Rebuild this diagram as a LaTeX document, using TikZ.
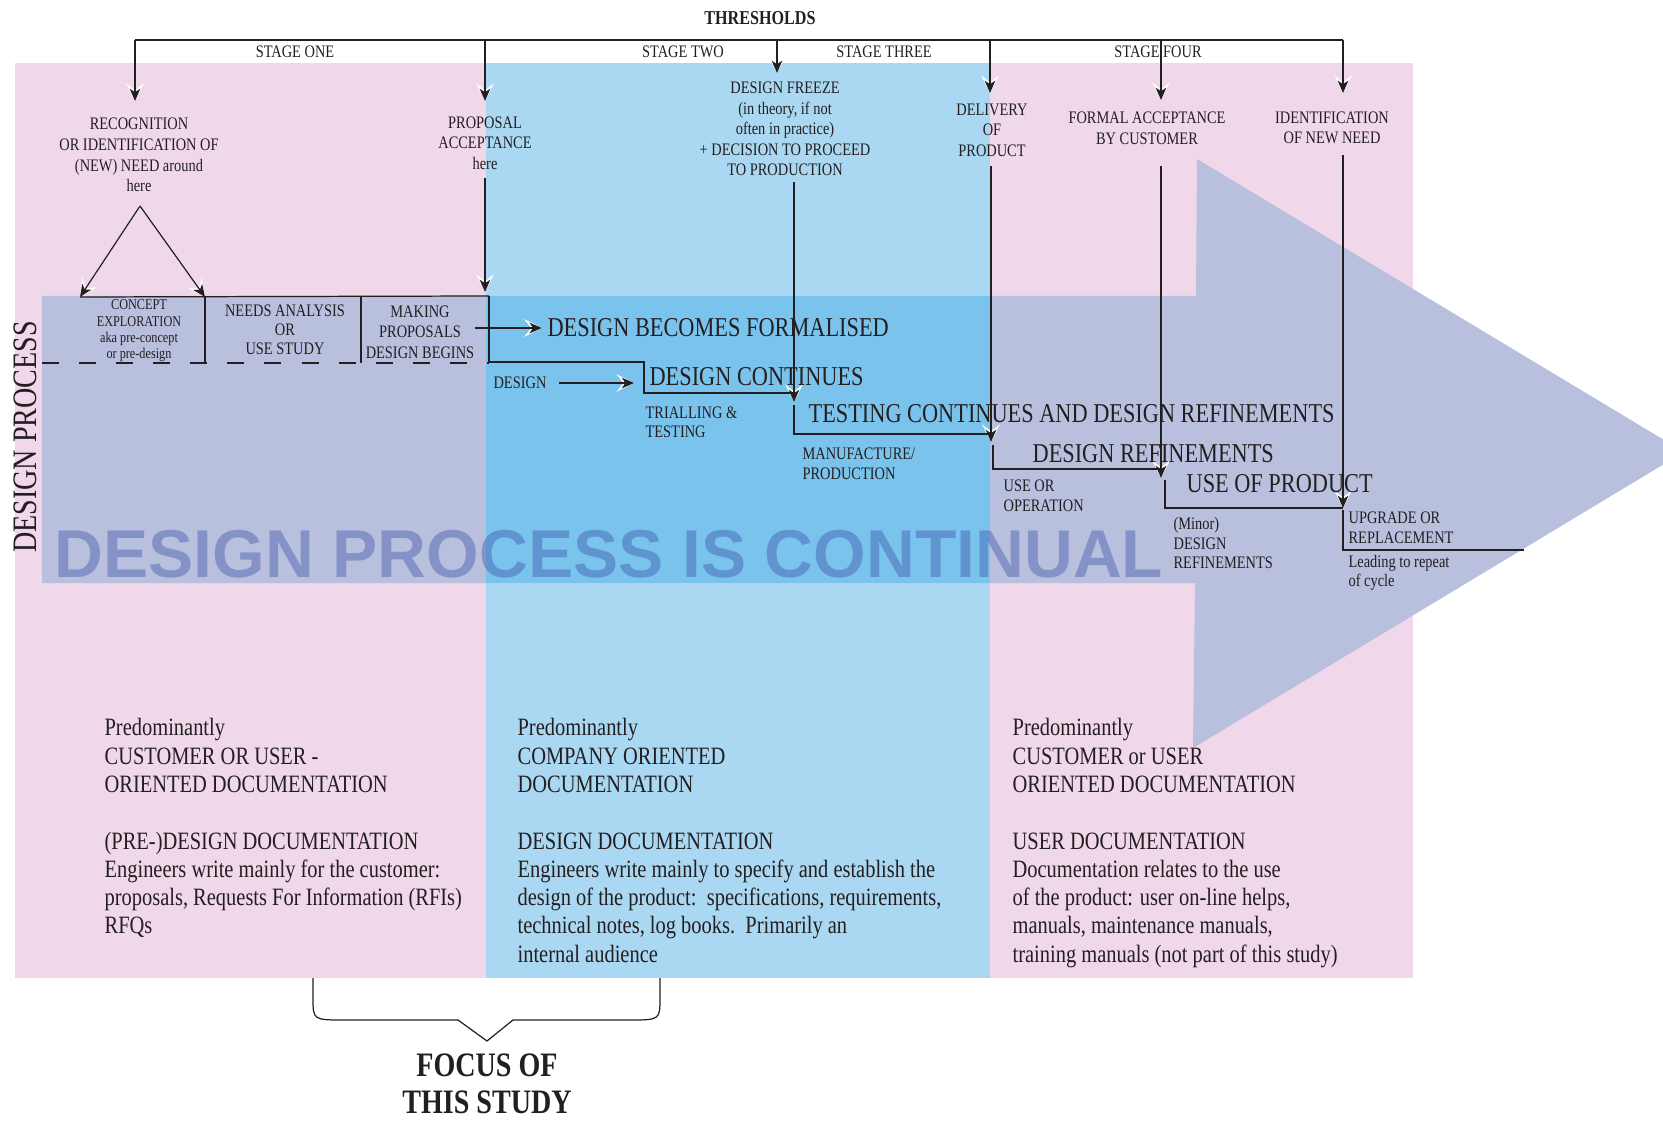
\documentclass[tikz,border=0pt]{standalone}
\usepackage{fontspec}
\setmainfont{Liberation Serif}[FakeStretch=0.82]
\newfontfamily\mottofont{Liberation Sans}
\usetikzlibrary{arrows.meta,positioning}
\definecolor{StagePink}{RGB}{240,216,234}
\definecolor{StageBlue}{RGB}{170,216,242}
\definecolor{ProcLav}{RGB}{184,192,222}
\definecolor{ProcBlue}{RGB}{122,195,236}
\definecolor{MottoBlue}{RGB}{56,78,168}
\definecolor{Ink}{RGB}{35,31,32}
\newcommand{\fs}[2]{\fontsize{#1}{#2}\selectfont}

\begin{document}
\begin{tikzpicture}[x=0.02cm,y=-0.02cm,line width=0.7pt,color=Ink,
  every node/.style={inner sep=0pt},
  thrarrow/.style={-{Stealth[length=7pt,width=6pt,inset=2pt,Ink]},
    preaction={draw=white,-{Stealth[length=10pt,width=10pt,inset=4pt,white]}}},
  milestone/.style={align=center,font=\fs{10}{11.7}},
  stagelbl/.style={font=\fs{10}{12}},
  phaselbl/.style={anchor=west,font=\fs{15.5}{17}},
  notelbl/.style={anchor=west,align=left,font=\fs{10}{11.1}},
  doctext/.style={anchor=north west,align=left,font=\fs{14.2}{16.1}}]
\useasboundingbox (0,0) rectangle (1663,1121);
% stages and process arrow
\fill[StagePink] (15,63) rectangle (1413,978);
\fill[StageBlue] (486,63) rectangle (990,978);
\fill[ProcLav] (42,296) -- (1196,296) -- (1197,159) -- (1684,452) -- (1193,748) -- (1195,583) -- (42,583) -- cycle;
\fill[ProcBlue] (486,296) rectangle (990,583);
\node[font=\mottofont\bfseries\fs{38.5}{40},text=MottoBlue,text opacity=0.4,anchor=base west] (motto) at (54,577) {DESIGN PROCESS IS CONTINUAL};
\node[rotate=90,font=\fs{19.5}{20}] (procvert) at (25,437) {DESIGN PROCESS};
% thresholds
\node[font=\bfseries\fs{11.2}{13}] (thr) at (760,18) {THRESHOLDS};
\foreach \n/\x/\y in {1/135/101,2/485/101,3/777/73,4/990/93,5/1161/100,6/1343/93}{
  \coordinate (t\n) at (\x,40); \coordinate (a\n) at (\x,\y);
  \draw[thrarrow] (t\n) -- (a\n);}
\draw (t1) -- (t6);
\node[stagelbl] (stg1) at (295,52) {STAGE ONE};
\node[stagelbl] (stg2) at (683,52) {STAGE TWO};
\node[stagelbl] (stg3) at (884,52) {STAGE THREE};
\node[stagelbl] (stg4) at (1158,52) {STAGE FOUR};
\node[milestone] (recog) at (139,155) {RECOGNITION\\OR IDENTIFICATION OF\\(NEW) NEED around\\here};
\node[milestone] (propacc) at (485,143) {PROPOSAL\\ACCEPTANCE\\here};
\node[milestone] (freeze) at (785,129) {DESIGN FREEZE\\(in theory, if not\\often in practice)\\+ DECISION TO PROCEED\\TO PRODUCTION};
\node[milestone] (deliv) at (992,130) {DELIVERY\\OF\\PRODUCT};
\node[milestone] (formal) at (1147,128) {FORMAL ACCEPTANCE\\BY CUSTOMER};
\node[milestone] (ident) at (1332,128) {IDENTIFICATION\\OF NEW NEED};
% pre-design boxes
\coordinate (apex) at (140,206);
\coordinate (cl) at (80,297);
\coordinate (cr) at (205,297);
\draw[thrarrow] (apex) -- (cl);
\draw[thrarrow] (apex) -- (cr);
\coordinate (b0) at (489,296);
\draw (cl) -- (b0);
\foreach \x in {205,361} \draw (\x,296) -- (\x,363);
\draw[dash pattern=on 9.7pt off 11.4pt] (42,363) -- (489,363);
\node[align=center,font=\fs{8.5}{9.3}] (concept) at (139,331) {CONCEPT\\EXPLORATION\\aka pre-concept\\or pre-design};
\node[align=center,font=\fs{10}{10.8}] (needs) at (285,330) {NEEDS ANALYSIS\\OR\\USE STUDY};
\node[align=center,font=\fs{10}{11.7}] (making) at (420,332) {MAKING\\PROPOSALS\\DESIGN BEGINS};
% design steps
\foreach \n/\x/\ya/\yb in {1/485/178/292,2/794/182/402,3/991/166/442,4/1161/166/478,5/1343/155/508}{
  \coordinate (u\n) at (\x,\ya); \coordinate (v\n) at (\x,\yb);
  \draw[thrarrow] (u\n) -- (v\n);}
\coordinate (s1) at (644,362);
\coordinate (s2) at (794,393);
\draw (b0) |- (s1) |- (s2);
\foreach \n/\xa/\ya/\xb/\yb in {3/794/405/990/434,4/993/445/1161/469,5/1165/480/1343/508,6/1343/510/1524/550}{
  \coordinate (p\n) at (\xa,\ya); \coordinate (q\n) at (\xb,\yb);
  \draw (p\n) |- (q\n);}
\node[phaselbl] (formalised) at (547,328) {DESIGN BECOMES FORMALISED};
\node[phaselbl] (continues) at (649,377) {DESIGN CONTINUES};
\node[phaselbl] (testing) at (808,414) {TESTING CONTINUES AND DESIGN REFINEMENTS};
\node[phaselbl] (refine) at (1032,454) {DESIGN REFINEMENTS};
\node[phaselbl] (useprod) at (1186,484) {USE OF PRODUCT};
\node[font=\fs{10}{11.1}] (design) at (520,383) {DESIGN};
\draw[thrarrow,shorten >=3pt] (making.east |- formalised) -- (formalised.west);
\draw[thrarrow,shorten <=7pt,shorten >=8.5pt] (design.east) -- (design.east -| continues.west);
\node[notelbl] (trial) at (645,422) {TRIALLING \&\\TESTING};
\node[notelbl] (manuf) at (802,464) {MANUFACTURE/\\PRODUCTION};
\node[notelbl] (useop) at (1003,496) {USE OR\\OPERATION};
\node[notelbl] (minor) at (1173,543) {(Minor)\\DESIGN\\REFINEMENTS};
\node[notelbl] (upgrade) at (1348,528) {UPGRADE OR\\REPLACEMENT};
\node[notelbl] (repeat) at (1348,573) {Leading to repeat\\of cycle};
% documentation
\node[doctext] (doc1) at (104,718) {Predominantly\\CUSTOMER OR USER -\\ORIENTED DOCUMENTATION\\[16.1pt](PRE-)DESIGN DOCUMENTATION\\Engineers write mainly for the customer:\\proposals, Requests For Information (RFIs)\\RFQs};
\node[doctext] (doc2) at (517,718) {Predominantly\\COMPANY ORIENTED\\DOCUMENTATION\\[16.1pt]DESIGN DOCUMENTATION\\Engineers write mainly to specify and establish the\\design of the product:\ \ specifications, requirements,\\technical notes, log books.\ \ Primarily an\\internal audience};
\node[doctext] (doc3) at (1012,718) {Predominantly\\CUSTOMER or USER\\ORIENTED DOCUMENTATION\\[16.1pt]USER DOCUMENTATION\\Documentation relates to the use\\of the product: user on-line helps,\\manuals, maintenance manuals,\\training manuals (not part of this study)};
% focus bracket
\draw (313,978) -- (313,998) .. controls (313,1020) .. (345,1020) -- (458,1020) -- (487,1041) -- (513,1020) -- (628,1020) .. controls (660,1020) .. (660,998) -- (660,978);
\node[font=\bfseries\fs{19.5}{21}] (focus) at (487,1065) {FOCUS OF};
\node[font=\bfseries\fs{19.5}{21},below=7.5pt of focus] (study) {THIS STUDY};
\end{tikzpicture}
\end{document}
